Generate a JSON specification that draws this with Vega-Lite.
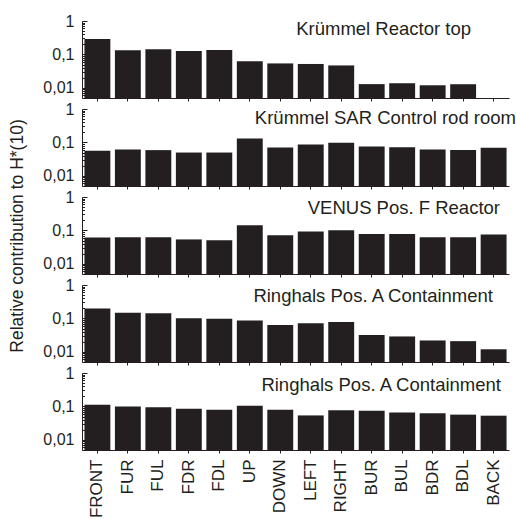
{
  "$schema": "https://vega.github.io/schema/vega-lite/v6.json",
  "padding": {"left": 8, "top": 13, "right": 0, "bottom": 0},
  "autosize": {"type": "pad"},
  "spacing": 11,
  "bounds": "flush",
  "config": {
    "font": "Liberation Sans",
    "view": {"stroke": null},
    "axis": {"grid": false, "domainColor": "#231f20", "tickColor": "#231f20", "labelColor": "#231f20", "titleColor": "#231f20", "labelFont": "Liberation Sans", "titleFont": "Liberation Sans", "labelFontSize": 16, "titleFontSize": 17.5, "titleFontWeight": "normal"},
    "title": {"font": "Liberation Sans", "fontSize": 18.5, "fontWeight": "normal", "color": "#231f20", "anchor": "end", "frame": "group", "baseline": "alphabetic"}
  },
  "datasets": {
    "d": [
      {"panel": 1, "dir": "FRONT", "v": 0.29},
      {"panel": 1, "dir": "FUR", "v": 0.134},
      {"panel": 1, "dir": "FUL", "v": 0.142},
      {"panel": 1, "dir": "FDR", "v": 0.126},
      {"panel": 1, "dir": "FDL", "v": 0.137},
      {"panel": 1, "dir": "UP", "v": 0.063},
      {"panel": 1, "dir": "DOWN", "v": 0.054},
      {"panel": 1, "dir": "LEFT", "v": 0.052},
      {"panel": 1, "dir": "RIGHT", "v": 0.047},
      {"panel": 1, "dir": "BUR", "v": 0.013},
      {"panel": 1, "dir": "BUL", "v": 0.0138},
      {"panel": 1, "dir": "BDR", "v": 0.012},
      {"panel": 1, "dir": "BDL", "v": 0.0129},
      {"panel": 2, "dir": "FRONT", "v": 0.057},
      {"panel": 2, "dir": "FUR", "v": 0.062},
      {"panel": 2, "dir": "FUL", "v": 0.059},
      {"panel": 2, "dir": "FDR", "v": 0.05},
      {"panel": 2, "dir": "FDL", "v": 0.05},
      {"panel": 2, "dir": "UP", "v": 0.132},
      {"panel": 2, "dir": "DOWN", "v": 0.071},
      {"panel": 2, "dir": "LEFT", "v": 0.087},
      {"panel": 2, "dir": "RIGHT", "v": 0.098},
      {"panel": 2, "dir": "BUR", "v": 0.076},
      {"panel": 2, "dir": "BUL", "v": 0.072},
      {"panel": 2, "dir": "BDR", "v": 0.062},
      {"panel": 2, "dir": "BDL", "v": 0.06},
      {"panel": 2, "dir": "BACK", "v": 0.069},
      {"panel": 3, "dir": "FRONT", "v": 0.062},
      {"panel": 3, "dir": "FUR", "v": 0.063},
      {"panel": 3, "dir": "FUL", "v": 0.063},
      {"panel": 3, "dir": "FDR", "v": 0.054},
      {"panel": 3, "dir": "FDL", "v": 0.051},
      {"panel": 3, "dir": "UP", "v": 0.144},
      {"panel": 3, "dir": "DOWN", "v": 0.072},
      {"panel": 3, "dir": "LEFT", "v": 0.093},
      {"panel": 3, "dir": "RIGHT", "v": 0.102},
      {"panel": 3, "dir": "BUR", "v": 0.078},
      {"panel": 3, "dir": "BUL", "v": 0.078},
      {"panel": 3, "dir": "BDR", "v": 0.063},
      {"panel": 3, "dir": "BDL", "v": 0.063},
      {"panel": 3, "dir": "BACK", "v": 0.076},
      {"panel": 4, "dir": "FRONT", "v": 0.2},
      {"panel": 4, "dir": "FUR", "v": 0.147},
      {"panel": 4, "dir": "FUL", "v": 0.144},
      {"panel": 4, "dir": "FDR", "v": 0.102},
      {"panel": 4, "dir": "FDL", "v": 0.098},
      {"panel": 4, "dir": "UP", "v": 0.087},
      {"panel": 4, "dir": "DOWN", "v": 0.064},
      {"panel": 4, "dir": "LEFT", "v": 0.072},
      {"panel": 4, "dir": "RIGHT", "v": 0.079},
      {"panel": 4, "dir": "BUR", "v": 0.032},
      {"panel": 4, "dir": "BUL", "v": 0.029},
      {"panel": 4, "dir": "BDR", "v": 0.022},
      {"panel": 4, "dir": "BDL", "v": 0.021},
      {"panel": 4, "dir": "BACK", "v": 0.012},
      {"panel": 5, "dir": "FRONT", "v": 0.112},
      {"panel": 5, "dir": "FUR", "v": 0.1},
      {"panel": 5, "dir": "FUL", "v": 0.094},
      {"panel": 5, "dir": "FDR", "v": 0.086},
      {"panel": 5, "dir": "FDL", "v": 0.08},
      {"panel": 5, "dir": "UP", "v": 0.105},
      {"panel": 5, "dir": "DOWN", "v": 0.08},
      {"panel": 5, "dir": "LEFT", "v": 0.054},
      {"panel": 5, "dir": "RIGHT", "v": 0.077},
      {"panel": 5, "dir": "BUR", "v": 0.074},
      {"panel": 5, "dir": "BUL", "v": 0.066},
      {"panel": 5, "dir": "BDR", "v": 0.063},
      {"panel": 5, "dir": "BDL", "v": 0.057},
      {"panel": 5, "dir": "BACK", "v": 0.053}
    ]
  },
  "vconcat": [
    {
      "data": {"name": "d"},
      "transform": [{"filter": "datum.panel == 1"}],
      "width": 427, "height": 77,
      "title": {"text": "Krümmel Reactor top", "offset": -25, "dx": -38},
      "mark": {"type": "bar", "fill": "#231f20"},
      "encoding": {
        "x": {"field": "dir", "type": "nominal", "scale": {"domain": ["FRONT","FUR","FUL","FDR","FDL","UP","DOWN","LEFT","RIGHT","BUR","BUL","BDR","BDL","BACK"], "paddingInner": 0.15, "paddingOuter": 0.08}, "axis": {"title": null, "labels": false, "tickSize": 3}},
        "y": {"field": "v", "type": "quantitative", "scale": {"type": "log", "domain": [0.005, 1]}, "axis": {"title": null, "values": [0.005,0.006,0.007,0.008,0.009,0.01,0.02,0.03,0.04,0.05,0.06,0.07,0.08,0.09,0.1,0.2,0.3,0.4,0.5,0.6,0.7,0.8,0.9,1], "labelExpr": "datum.value == 1 ? '1' : datum.value == 0.1 ? '0,1' : datum.value == 0.01 ? '0,01' : ''", "tickSize": {"condition": {"test": "datum.value == 1 || datum.value == 0.1 || datum.value == 0.01", "value": -5}, "value": -2.5}, "labelPadding": 13}},
        "y2": {"datum": 0.005}
      }
    },
    {
      "data": {"name": "d"},
      "transform": [{"filter": "datum.panel == 2"}],
      "width": 427, "height": 77,
      "title": {"text": "Krümmel SAR Control rod room", "offset": -26, "dx": 7},
      "mark": {"type": "bar", "fill": "#231f20"},
      "encoding": {
        "x": {"field": "dir", "type": "nominal", "scale": {"domain": ["FRONT","FUR","FUL","FDR","FDL","UP","DOWN","LEFT","RIGHT","BUR","BUL","BDR","BDL","BACK"], "paddingInner": 0.15, "paddingOuter": 0.08}, "axis": {"title": null, "labels": false, "tickSize": 3}},
        "y": {"field": "v", "type": "quantitative", "scale": {"type": "log", "domain": [0.005, 1]}, "axis": {"title": null, "values": [0.005,0.006,0.007,0.008,0.009,0.01,0.02,0.03,0.04,0.05,0.06,0.07,0.08,0.09,0.1,0.2,0.3,0.4,0.5,0.6,0.7,0.8,0.9,1], "labelExpr": "datum.value == 1 ? '1' : datum.value == 0.1 ? '0,1' : datum.value == 0.01 ? '0,01' : ''", "tickSize": {"condition": {"test": "datum.value == 1 || datum.value == 0.1 || datum.value == 0.01", "value": -5}, "value": -2.5}, "labelPadding": 13}},
        "y2": {"datum": 0.005}
      }
    },
    {
      "data": {"name": "d"},
      "transform": [{"filter": "datum.panel == 3"}],
      "width": 427, "height": 77,
      "title": {"text": "VENUS Pos. F Reactor", "offset": -99, "dx": -9},
      "mark": {"type": "bar", "fill": "#231f20"},
      "encoding": {
        "x": {"field": "dir", "type": "nominal", "scale": {"domain": ["FRONT","FUR","FUL","FDR","FDL","UP","DOWN","LEFT","RIGHT","BUR","BUL","BDR","BDL","BACK"], "paddingInner": 0.15, "paddingOuter": 0.08}, "axis": {"title": null, "labels": false, "tickSize": 3}},
        "y": {"field": "v", "type": "quantitative", "scale": {"type": "log", "domain": [0.005, 1]}, "axis": {"title": "Relative contribution to H*(10)", "titlePadding": 16, "values": [0.005,0.006,0.007,0.008,0.009,0.01,0.02,0.03,0.04,0.05,0.06,0.07,0.08,0.09,0.1,0.2,0.3,0.4,0.5,0.6,0.7,0.8,0.9,1], "labelExpr": "datum.value == 1 ? '1' : datum.value == 0.1 ? '0,1' : datum.value == 0.01 ? '0,01' : ''", "tickSize": {"condition": {"test": "datum.value == 1 || datum.value == 0.1 || datum.value == 0.01", "value": -5}, "value": -2.5}, "labelPadding": 13}},
        "y2": {"datum": 0.005}
      }
    },
    {
      "data": {"name": "d"},
      "transform": [{"filter": "datum.panel == 4"}],
      "width": 427, "height": 77,
      "title": {"text": "Ringhals Pos. A Containment", "offset": -28, "dx": -16},
      "mark": {"type": "bar", "fill": "#231f20"},
      "encoding": {
        "x": {"field": "dir", "type": "nominal", "scale": {"domain": ["FRONT","FUR","FUL","FDR","FDL","UP","DOWN","LEFT","RIGHT","BUR","BUL","BDR","BDL","BACK"], "paddingInner": 0.15, "paddingOuter": 0.08}, "axis": {"title": null, "labels": false, "tickSize": 3}},
        "y": {"field": "v", "type": "quantitative", "scale": {"type": "log", "domain": [0.005, 1]}, "axis": {"title": null, "values": [0.005,0.006,0.007,0.008,0.009,0.01,0.02,0.03,0.04,0.05,0.06,0.07,0.08,0.09,0.1,0.2,0.3,0.4,0.5,0.6,0.7,0.8,0.9,1], "labelExpr": "datum.value == 1 ? '1' : datum.value == 0.1 ? '0,1' : datum.value == 0.01 ? '0,01' : ''", "tickSize": {"condition": {"test": "datum.value == 1 || datum.value == 0.1 || datum.value == 0.01", "value": -5}, "value": -2.5}, "labelPadding": 13}},
        "y2": {"datum": 0.005}
      }
    },
    {
      "data": {"name": "d"},
      "transform": [{"filter": "datum.panel == 5"}],
      "width": 427, "height": 77,
      "title": {"text": "Ringhals Pos. A Containment", "offset": -29, "dx": -8},
      "mark": {"type": "bar", "fill": "#231f20"},
      "encoding": {
        "x": {"field": "dir", "type": "nominal", "scale": {"domain": ["FRONT","FUR","FUL","FDR","FDL","UP","DOWN","LEFT","RIGHT","BUR","BUL","BDR","BDL","BACK"], "paddingInner": 0.15, "paddingOuter": 0.08}, "axis": {"title": null, "labels": true, "labelAngle": -90, "labelFontSize": 17, "labelPadding": 6, "tickSize": 3}},
        "y": {"field": "v", "type": "quantitative", "scale": {"type": "log", "domain": [0.005, 1]}, "axis": {"title": null, "values": [0.005,0.006,0.007,0.008,0.009,0.01,0.02,0.03,0.04,0.05,0.06,0.07,0.08,0.09,0.1,0.2,0.3,0.4,0.5,0.6,0.7,0.8,0.9,1], "labelExpr": "datum.value == 1 ? '1' : datum.value == 0.1 ? '0,1' : datum.value == 0.01 ? '0,01' : ''", "tickSize": {"condition": {"test": "datum.value == 1 || datum.value == 0.1 || datum.value == 0.01", "value": -5}, "value": -2.5}, "labelPadding": 13}},
        "y2": {"datum": 0.005}
      }
    }
  ]
}
